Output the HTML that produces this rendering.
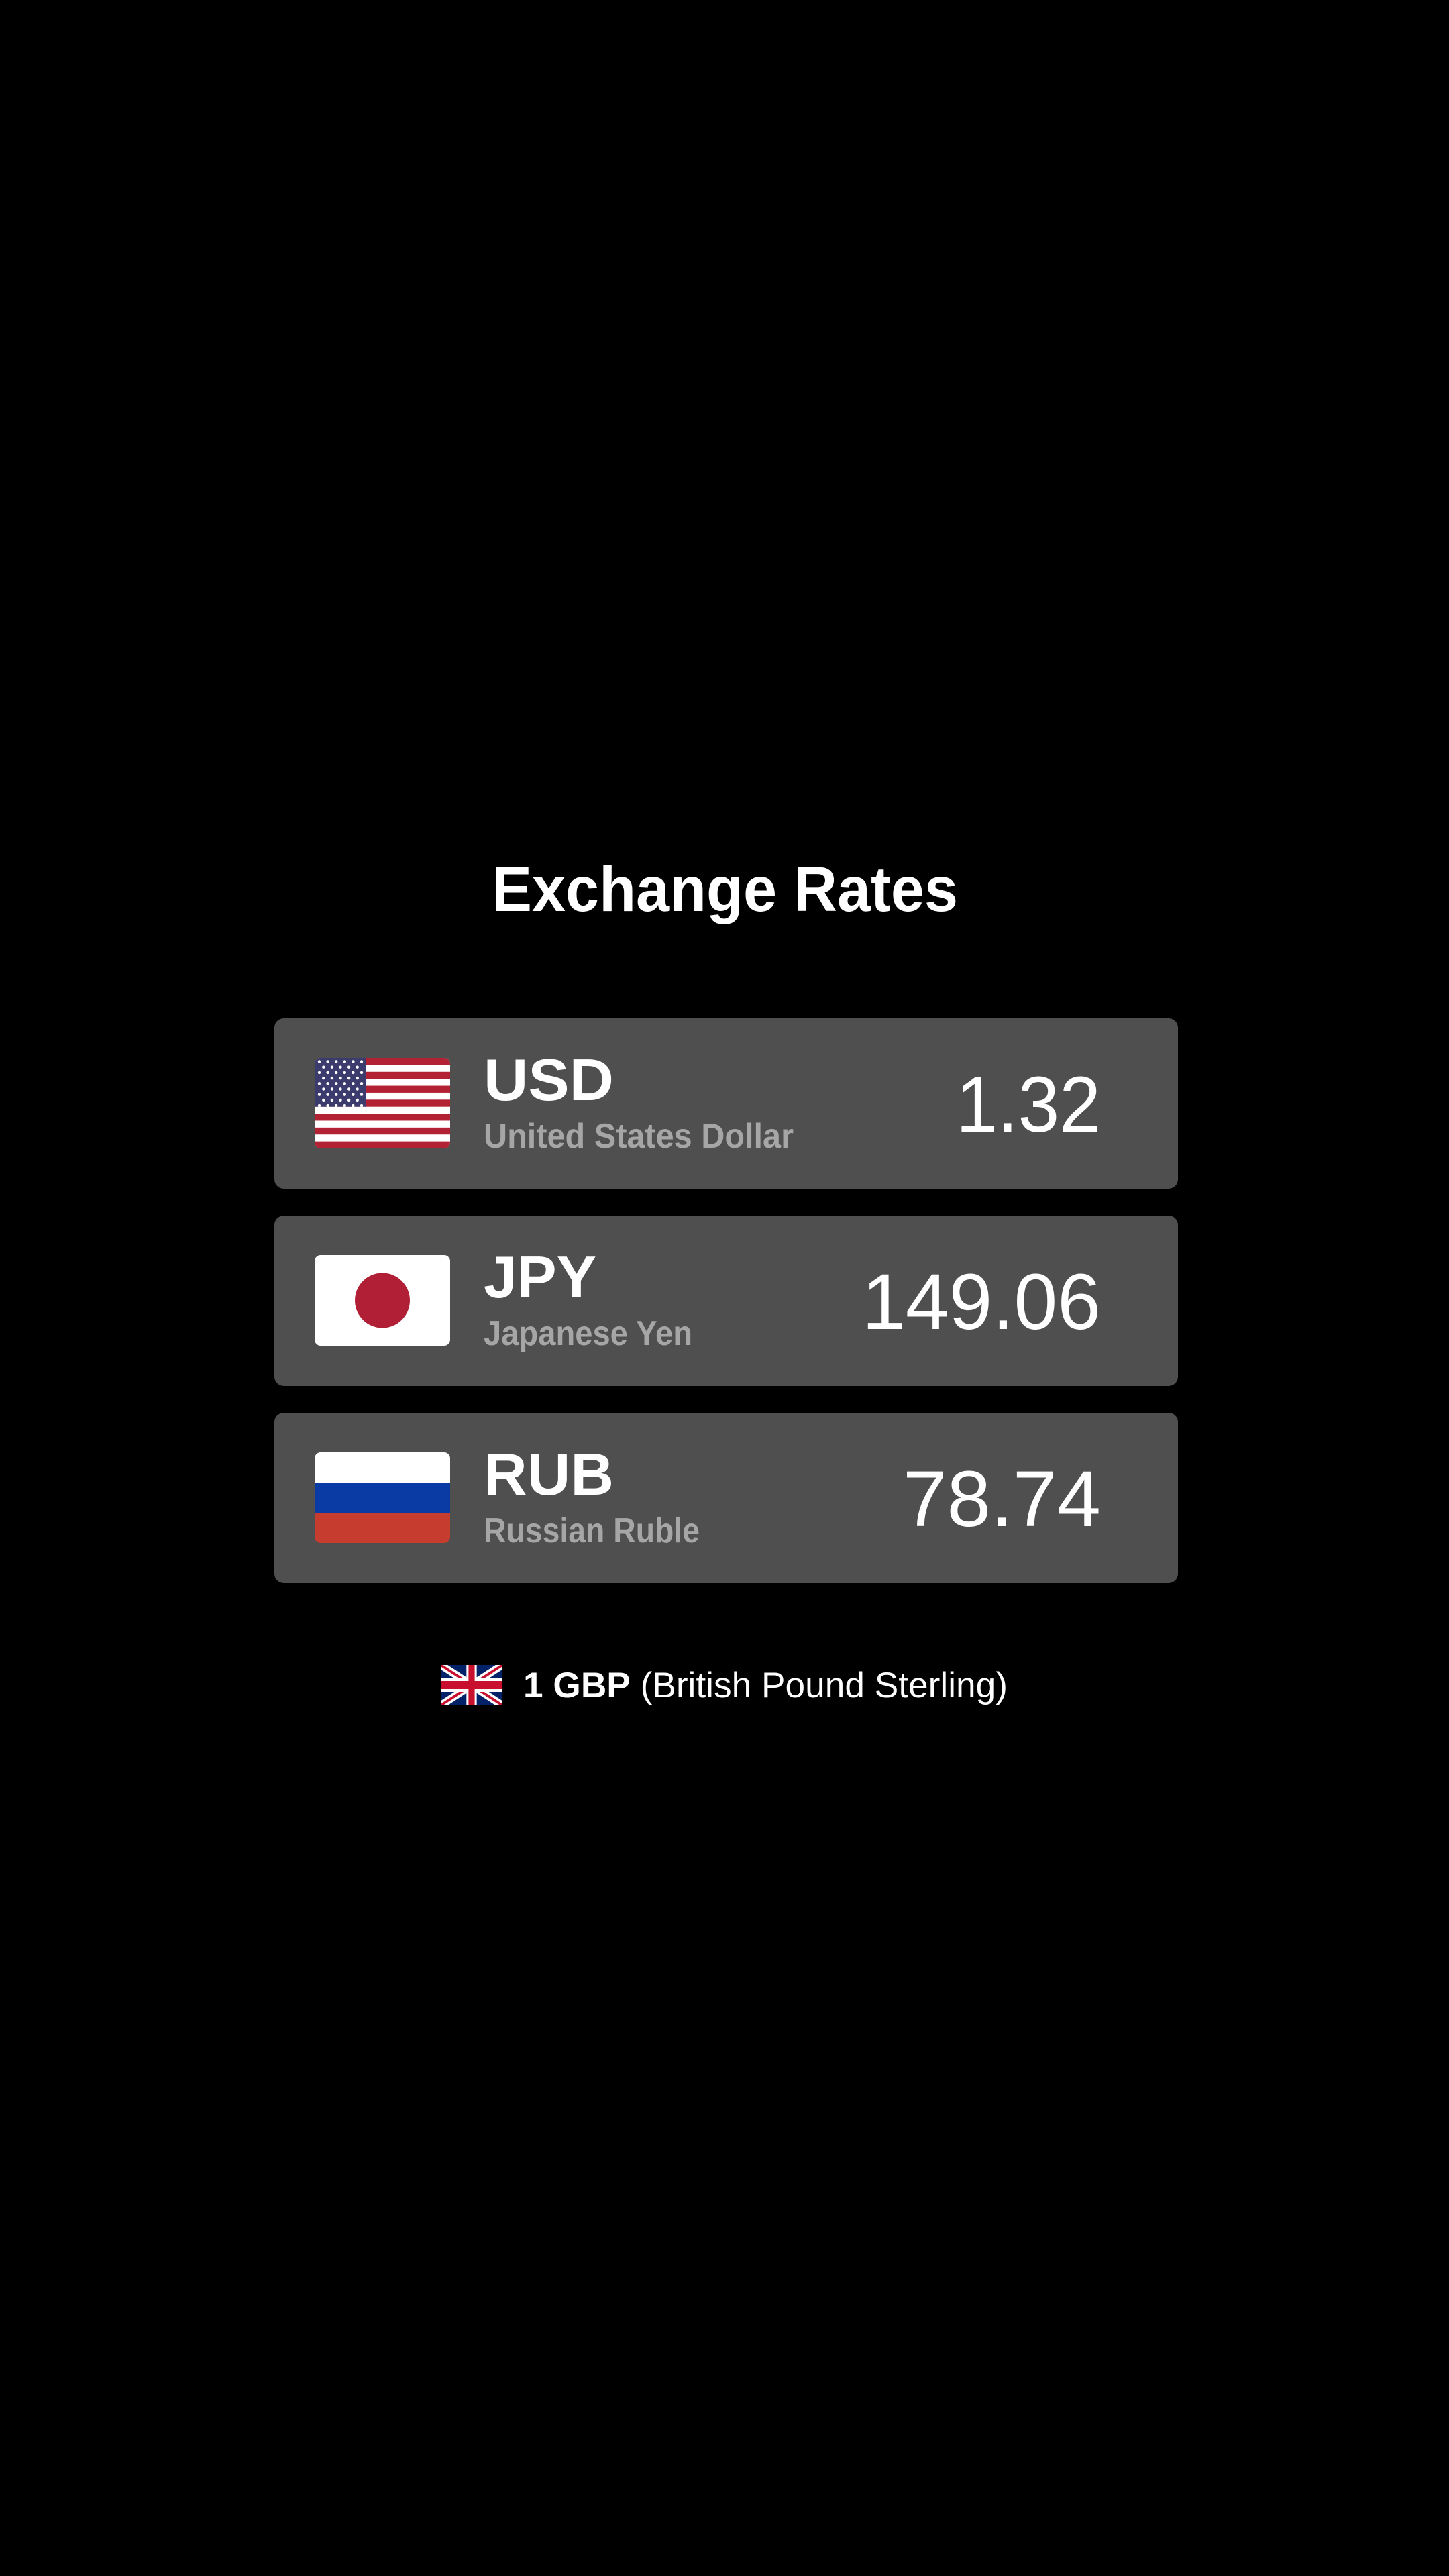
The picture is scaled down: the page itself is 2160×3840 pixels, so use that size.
<!DOCTYPE html>
<html><head><meta charset="utf-8"><style>
html,body{margin:0;padding:0;background:#000;width:2160px;height:3840px;overflow:hidden}
svg{display:block}
text{font-family:"Liberation Sans",sans-serif}
</style></head>
<body>
<svg id="root" width="2160" height="3840" viewBox="0 0 2160 3840" xmlns="http://www.w3.org/2000/svg">
<rect width="2160" height="3840" fill="#000"/>
<text x="733" y="1358" font-size="95" font-weight="bold" fill="#fff" textLength="695" lengthAdjust="spacingAndGlyphs">Exchange Rates</text>
<g id="cards"></g>
<g>
  <g>
    <svg x="657" y="2482" width="92" height="60" viewBox="0 0 60 30" preserveAspectRatio="none">
      <rect width="60" height="30" fill="#012169"/>
      <path d="M0,0 L60,30 M60,0 L0,30" stroke="#fff" stroke-width="6"/>
      <path d="M0,0 L60,30 M60,0 L0,30" stroke="#C8102E" stroke-width="2"/>
      <path d="M30,0 V30 M0,15 H60" stroke="#fff" stroke-width="10"/>
      <path d="M30,0 V30 M0,15 H60" stroke="#C8102E" stroke-width="6"/>
    </svg>
  </g>
  <text x="780" y="2530" font-size="53" fill="#fff" textLength="722" lengthAdjust="spacingAndGlyphs"><tspan font-weight="bold">1 GBP</tspan> (British Pound Sterling)</text>
</g>
</svg>
<script>
const codes = ["USD", "JPY", "RUB"];
const names = ["United States Dollar", "Japanese Yen", "Russian Ruble"];
const rates = ["1.32", "149.06", "78.74"];

const NS = "http://www.w3.org/2000/svg";
const cards = document.getElementById("cards");
const codeW = {USD:194, JPY:168, RUB:194};
const nameW = {USD:462, JPY:311, RUB:322};
const rateW = {"1.32":216, "149.06":356, "78.74":295};
function mk(tag, attrs, parent){
  const e = document.createElementNS(NS, tag);
  for (const k in attrs) e.setAttribute(k, attrs[k]);
  parent.appendChild(e);
  return e;
}
function flag(code, g, x, y){
  const w = 202, h = 135;
  const clipId = "clip-" + code;
  const cp = mk("clipPath", {id: clipId}, g);
  mk("rect", {x: x, y: y, width: w, height: h, rx: 9}, cp);
  const f = mk("g", {"clip-path": "url(#" + clipId + ")"}, g);
  
  
  if (code === "USD") {
    mk("rect", {x: x, y: y, width: w, height: h, fill: "#fff"}, f);
    const sh = h / 13;
    for (let i = 0; i < 13; i += 2) mk("rect", {x: x, y: y + i * sh, width: w, height: sh, fill: "#b22234"}, f);
    mk("rect", {x: x, y: y, width: 77, height: sh * 7, fill: "#3c3b6e"}, f);
    for (let r = 0; r < 9; r++) {
      const n = r % 2 ? 5 : 6;
      for (let c = 0; c < n; c++) {
        const cx = x + 7 + c * 12.6 + (r % 2 ? 6.3 : 0);
        mk("circle", {cx: cx, cy: y + 5.5 + r * 8.2, r: 2.2, fill: "#fff"}, f);
      }
    }
  } else if (code === "JPY") {
    mk("rect", {x: x, y: y, width: w, height: h, fill: "#fff"}, f);
    mk("circle", {cx: x + w / 2, cy: y + h / 2, r: 41, fill: "#b01f35"}, f);
  } else {
    mk("rect", {x: x, y: y, width: w, height: h / 3, fill: "#fff"}, f);
    mk("rect", {x: x, y: y + h / 3, width: w, height: h / 3, fill: "#0a3aa3"}, f);
    mk("rect", {x: x, y: y + 2 * h / 3, width: w, height: h / 3, fill: "#c63c2e"}, f);
  }
}
codes.forEach((code, i) => {
  const dy = i * 294;
  const g = mk("g", {}, cards);
  
  
  const bg = mk("rect", {x: 409, y: 1518 + dy, width: 1347, height: 254, rx: 14, fill: "#4f4f4f"}, g);
  
  
  flag(code, g, 469, 1577 + dy);
  const t1 = mk("text", {x: 721, y: 1640 + dy, "font-size": 88, "font-weight": "bold", fill: "#fff", textLength: codeW[code] || 190, lengthAdjust: "spacingAndGlyphs"}, g);
  t1.textContent = code;
  
  
  const t2 = mk("text", {x: 721, y: 1711 + dy, "font-size": 52, "font-weight": "bold", fill: "#a6a6a6", textLength: nameW[code] || 400, lengthAdjust: "spacingAndGlyphs"}, g);
  t2.textContent = names[i];
  
  
  const rw = rateW[rates[i]] || rates[i].length * 60;
  const t3 = mk("text", {x: 1641 - rw, y: 1687 + dy, "font-size": 118, fill: "#fff", textLength: rw, lengthAdjust: "spacingAndGlyphs"}, g);
  t3.textContent = rates[i];
  
  
});
</script>
</body></html>
